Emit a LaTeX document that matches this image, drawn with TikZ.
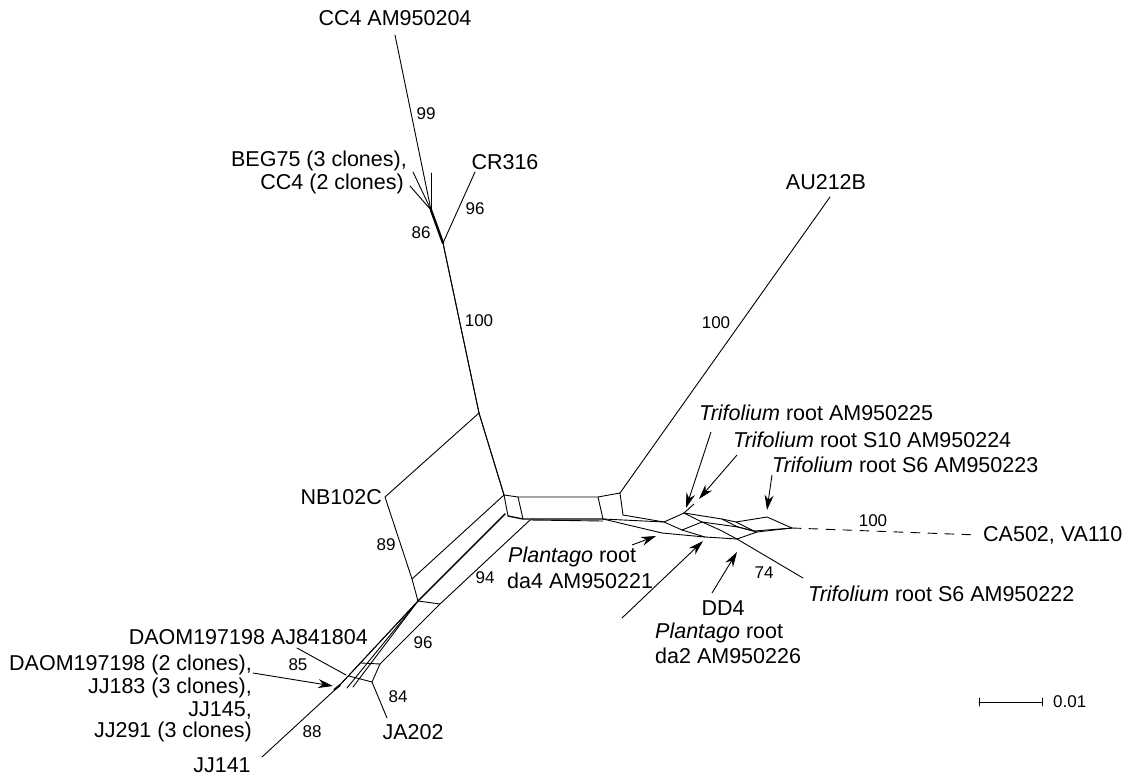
\documentclass[tikz,border=0pt]{standalone}
\usepackage{fontspec}
\setmainfont{Liberation Sans}
\usetikzlibrary{arrows.meta}
\begin{document}
\begin{tikzpicture}[x=1pt,y=-1pt,
  edge/.style={line width=0.9pt, line join=round, line cap=round},
  thickedge/.style={line width=2.4pt, line cap=round},
  lab/.style={font=\fontsize{21.5}{24}\selectfont, inner sep=0pt},
  num/.style={font=\fontsize{17}{19}\selectfont, inner sep=0pt},
  pointer/.style={line width=0.9pt, -{Stealth[length=15pt,width=9pt]}},
]
\useasboundingbox (0,0) rectangle (1128,777);

% ---------- coordinates ----------
\coordinate (cc4) at (395,35);
\coordinate (j1) at (431,210);
\coordinate (beg1) at (413,172);
\coordinate (beg2) at (410,186);
\coordinate (vt) at (431,173);
\coordinate (j2) at (443,243);
\coordinate (cr) at (475,172);
\coordinate (a) at (479,413);
\coordinate (d) at (504,495);
\coordinate (nb) at (385,497);
\coordinate (c) at (412,579);
\coordinate (e) at (418,601);
% horizontal box
\coordinate (h1) at (518,497);
\coordinate (h2) at (598,497);
\coordinate (au) at (620,493);
\coordinate (h3) at (508,516);
\coordinate (h4) at (523,519);
\coordinate (h5) at (603,519);
\coordinate (h6) at (623,515);
\coordinate (aul) at (830,197);
% bundle
\coordinate (l1s) at (338,687);
\coordinate (l1t) at (505,514);
\coordinate (b1) at (349,676);
\coordinate (b2) at (361,663);
\coordinate (r1) at (372,682);
\coordinate (r2) at (380,664);
\coordinate (r3) at (440,604);
\coordinate (r4) at (530,520);
\coordinate (ja) at (387,718);
\coordinate (ajl) at (297,648);
\coordinate (ajt) at (346,675);
\coordinate (jj141) at (262,757);
\coordinate (dao) at (253,673);
\coordinate (daotip) at (333,686);
% right cluster
\coordinate (q1) at (664,522);
\coordinate (pk) at (684,513);
\coordinate (pend) at (694,504);
\coordinate (u2) at (722,519);
\coordinate (u3) at (736,522);
\coordinate (s6) at (767,517);
\coordinate (tip) at (792,528);
\coordinate (q1b) at (682,530);
\coordinate (pkb) at (702,522);
\coordinate (u2b) at (738,527);
\coordinate (u3b) at (754,531);
\coordinate (da4) at (662,533);
\coordinate (m2) at (705,537);
\coordinate (dd) at (737,539);
\coordinate (lw) at (757,532);
\coordinate (s6b) at (803,578);
\coordinate (ca) at (978,535);

% ---------- edges ----------
\draw[edge] (cc4) -- (j1);
\draw[edge] (beg1) -- (j1);
\draw[edge] (beg2) -- (j1);
\draw[edge] (vt) -- (j1);
\draw[thickedge] (j1) -- (j2);
\draw[edge] (j2) -- (cr);
\draw[edge] (j2) -- (a) -- (d);
\draw[edge, xshift=2.6pt] (j2) -- (a) -- (d);
% NB102C split
\draw[edge] (a) -- (nb) -- (c) -- (d);
\draw[edge] (c) -- (e);
% horizontal box
\draw[edge] (d) -- (h1) -- (h2) -- (au);
\draw[edge] (d) -- (h3);
\draw[edge] (h1) -- (h4);
\draw[edge] (h2) -- (h5);
\draw[edge] (au) -- (h6);
\draw[edge, line width=1.3pt] (h3) -- (h4) -- (h5);
\draw[edge] (r4) -- (603,521);
\draw[edge] (au) -- (aul);
% bundle
\draw[edge] (l1s) -- (e) -- (l1t);
\draw[edge, xshift=3pt, yshift=-1pt] (l1s) -- (e) -- (l1t);
\draw[edge, xshift=6pt, yshift=-3pt] (341,685) -- (e) -- (l1t);
\draw[edge, xshift=9pt, yshift=-4pt] (344,683) -- (e) -- (l1t);
\draw[edge] (b1) -- (r1) -- (r2) -- (r3) -- (r4);
\draw[edge] (b2) -- (r2);
\draw[edge] (e) -- (r3);
\draw[edge] (r1) -- (ja);
\draw[edge] (ajl) -- (ajt);
\draw[edge] (jj141) -- (l1s);
\draw[line width=2pt] (334,690) -- (340,685);
% right cluster
\draw[edge] (h6) -- (q1) -- (pk) -- (u2) -- (u3) -- (s6) -- (tip);
\draw[edge] (h5) -- (q1);
\draw[edge] (pk) -- (pend);
\draw[edge] (q1b) -- (pkb) -- (u2b) -- (u3b) -- (tip);
\draw[edge] (q1) -- (q1b);
\draw[edge] (pk) -- (pkb);
\draw[edge] (u2) -- (u2b);
\draw[edge] (u3) -- (u3b);
\draw[edge] (h5) -- (da4) -- (m2) -- (dd) -- (lw) -- (tip);
\draw[edge] (q1b) -- (m2);
\draw[edge] (pkb) -- (720,530) -- (dd);
\draw[edge] (u2b) -- (lw);
\draw[edge] (dd) -- (s6b);
\draw[edge, dash pattern=on 9pt off 8pt] (tip) -- (ca);

% ---------- labels ----------
\node[lab] (tcc4) at (395,18) {CC4 AM950204};
\node[lab, anchor=east] (tbeg) at (407,161) {BEG75 (3 clones),};
\node[lab, anchor=east] (tcc4b) at (404,184) {CC4 (2 clones)};
\node[lab] (tcr) at (505,162) {CR316};
\node[lab] (tau) at (826,182) {AU212B};
\node[lab, anchor=east] (tnb) at (382,497) {NB102C};
\node[lab, anchor=west] (tt1) at (699,413) {\textit{Trifolium} root AM950225};
\node[lab, anchor=west] (tt2) at (733,440) {\textit{Trifolium} root S10 AM950224};
\node[lab, anchor=west] (tt3) at (772,465) {\textit{Trifolium} root S6 AM950223};
\node[lab, anchor=west] (tca) at (983,535) {CA502, VA110};
\node[lab, anchor=west] (tt4) at (808,594) {\textit{Trifolium} root S6 AM950222};
\node[lab, anchor=west] (tpl1) at (508,557) {\textit{Plantago} root};
\node[lab, anchor=west] (tpl1b) at (507,581) {da4 AM950221};
\node[lab] (tdd) at (723,608) {DD4};
\node[lab, anchor=west] (tpl2) at (655,633) {\textit{Plantago} root};
\node[lab, anchor=west] (tpl2b) at (655,656) {da2 AM950226};
\node[lab, anchor=east] (taj) at (368,637) {DAOM197198 AJ841804};
\node[lab, anchor=east] (tdao) at (252,665) {DAOM197198 (2 clones),};
\node[lab, anchor=east] (tjj183) at (252,688) {JJ183 (3 clones),};
\node[lab, anchor=east] (tjj145) at (252,710) {JJ145,};
\node[lab, anchor=east] (tjj291) at (252,732) {JJ291 (3 clones)};
\node[lab, anchor=base] (tjj141) at (222,772.5) {JJ141};
\node[lab] (tja) at (413,732) {JA202};

\node[num] at (426,114) {99};
\node[num] at (421,233) {86};
\node[num] at (475,209) {96};
\node[num] at (479,321) {100};
\node[num] at (716,323) {100};
\node[num] at (873,521) {100};
\node[num] at (386,545) {89};
\node[num] at (485,578) {94};
\node[num] at (423,643) {96};
\node[num] at (298,665) {85};
\node[num] at (398,697) {84};
\node[num] at (312,732) {88};
\node[num] at (764,573) {74};

% ---------- pointers ----------
\draw[pointer] (711,432) -- (686,508);
\draw[pointer] (737,455) -- (699,499);
\draw[pointer] (772,475) -- (767,510);
\draw[pointer] (632,545) -- (656,536);
\draw[pointer] (622,618) -- (703,541);
\draw[pointer] (712,593) -- (737,552);
\draw[pointer] (dao) -- (daotip);

% ---------- scale bar ----------
\coordinate (sb1) at (979,702);
\coordinate (sb2) at (1042,702);
\draw[edge] (sb1) -- (sb2);
\draw[edge] (979,698) -- (979,706);
\draw[edge] (1042,698) -- (1042,706);
\node[num, anchor=west] (tsb) at (1053,702) {0.01};
\end{tikzpicture}
\end{document}
